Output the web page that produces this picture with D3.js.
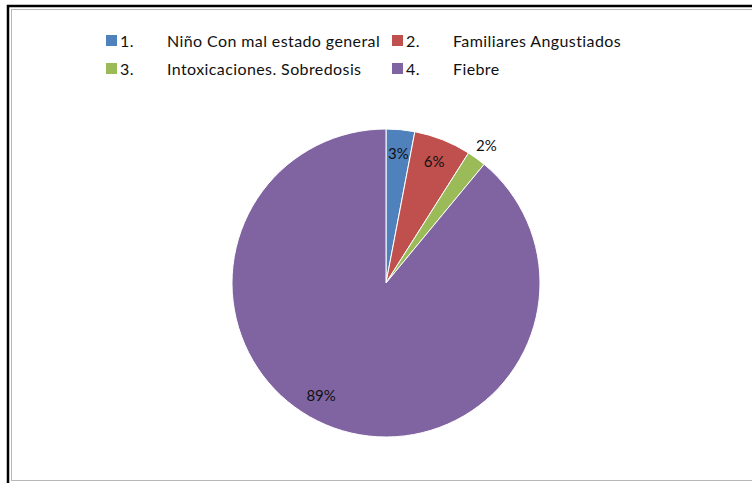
<!DOCTYPE html>
<html>
<head>
<meta charset="utf-8">
<script src="https://cdn.jsdelivr.net/npm/d3@7"></script>
<style>
  html, body { margin: 0; padding: 0; background: #fff; }
  svg { display: block; }
  text { font-family: Lato, "Open Sans", sans-serif; fill: #111; }
</style>
</head>
<body>
<svg id="chart" width="752" height="483"></svg>
<script>
// Motivos de consulta
const numbers = ["1.", "2.", "3.", "4."];
const categories = ["Niño Con mal estado general", "Familiares Angustiados", "Intoxicaciones. Sobredosis", "Fiebre"];
const values = [3, 6, 2, 89];
const colors = ["#4F81BD", "#C0504D", "#9BBB59", "#8064A2"];

const data = categories.map((c, i) => ({ num: numbers[i], name: c, value: values[i], color: colors[i] }));

const svg = d3.select("#chart");
const W = 752, H = 483;

// outer frame
svg.append("rect").attr("x", 8).attr("y", 6).attr("width", W + 10).attr("height", H + 10)
  .attr("fill", "none").attr("stroke", "#000").attr("stroke-width", 2.5);
svg.append("rect").attr("x", 11.5).attr("y", 9.5).attr("width", W + 10).attr("height", H - 12)
  .attr("fill", "none").attr("stroke", "#b8b8b8").attr("stroke-width", 1);

// pie
const cx = 386, cy = 283, r = 154;
const pie = d3.pie().value(d => d.value).sort(null);
const arc = d3.arc().innerRadius(0).outerRadius(r);
const arcs = pie(data);

const g = svg.append("g").attr("transform", `translate(${cx},${cy})`);
g.selectAll("path").data(arcs).join("path")
  .attr("d", arc)
  .attr("fill", d => d.data.color)
  .attr("stroke", "#fff").attr("stroke-width", 1);

// percentage labels: inside at 0.85r, small outer slice placed outside,
// the large slice label nudged further round the circle
function labelPos(d) {
  const mid = (d.startAngle + d.endAngle) / 2;
  let a = mid, rr = r * 0.85;
  if (d.endAngle - d.startAngle < 0.15) rr = r * 1.11;
  if (d.endAngle - d.startAngle > Math.PI) { a = mid + 0.18; rr = r * 0.84; }
  return [Math.sin(a) * rr, -Math.cos(a) * rr];
}
g.selectAll("text.pct").data(arcs).join("text")
  .attr("class", "pct")
  .attr("transform", d => `translate(${labelPos(d)})`)
  .attr("text-anchor", "middle")
  .attr("dominant-baseline", "central")
  .style("font-size", "15px")
  .text(d => d.data.value + "%");

// legend
const legendPos = [
  { x: 106, y: 40 }, { x: 392, y: 40 },
  { x: 106, y: 68 }, { x: 392, y: 68 }
];
const lg = svg.append("g").selectAll("g").data(data).join("g")
  .attr("transform", (d, i) => `translate(${legendPos[i].x},${legendPos[i].y})`);
lg.append("rect").attr("x", 0).attr("y", -5).attr("width", 11).attr("height", 11)
  .attr("fill", d => d.color);
lg.append("text").attr("x", 14).attr("y", 0).attr("dominant-baseline", "central")
  .style("font-size", "16px").style("letter-spacing", "0.4px").text(d => d.num);
lg.append("text").attr("x", 61).attr("y", 0).attr("dominant-baseline", "central")
  .style("font-size", "16px").style("letter-spacing", "0.4px").text(d => d.name);
</script>
</body>
</html>
